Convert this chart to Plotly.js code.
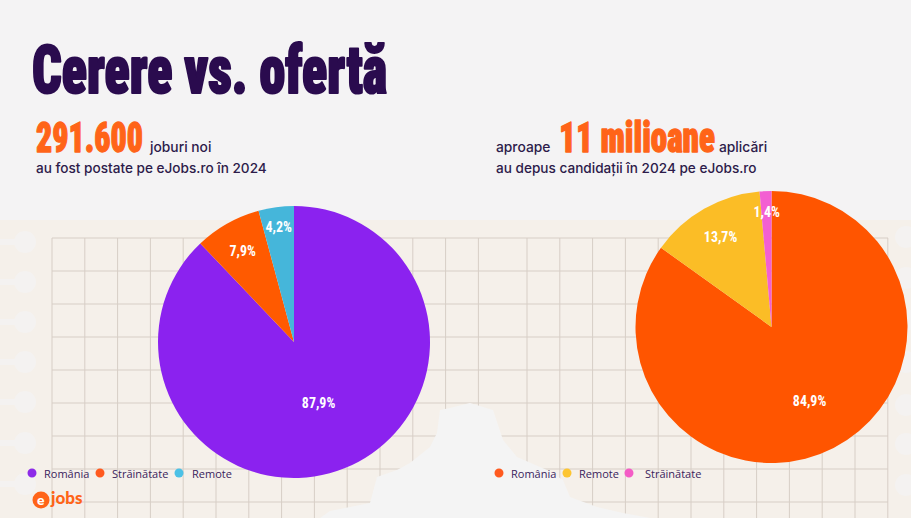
<!DOCTYPE html>
<html>
<head>
<meta charset="utf-8">
<script src="https://cdn.plot.ly/plotly-3.0.1.min.js"></script>
<style>
  html, body { margin: 0; padding: 0; background: #F4F3F4; }
  #chart { width: 911px; height: 518px; }
</style>
</head>
<body>
<div id="chart"></div>
<script>
// ---- data ----
const jobCategories = ['România', 'Străinătate', 'Remote'];
const jobShares = [87.9, 7.9, 4.2];
const jobColors = ['#8B22EF', '#FF5A00', '#45B6DA'];

const applicationCategories = ['România', 'Remote', 'Străinătate'];
const applicationShares = [84.9, 13.7, 1.4];
const applicationColors = ['#FF5500', '#FBBD26', '#F35FD2'];

const titleText = 'Cerere vs. ofertă';
const jobsTotal = '291.600';
const applicationsTotal = '11 milioane';

// ---- layout helpers (pixel -> paper) ----
const W = 911, H = 518;
const px = x => x / W;
const py = y => 1 - y / H;

const DARK = '#2A0B4E';
const TEXT = '#2D1B4A';
const ORANGE = '#FF6418';
const DISPLAY = 'Roboto Condensed, Liberation Sans Narrow, DejaVu Sans Condensed, DejaVu Sans, sans-serif';
const BODY = 'Inter, Liberation Sans, sans-serif';
const LEGEND_FONT = 'Open Sans, Noto Sans, sans-serif';

const fmt = v => v.toFixed(1).replace('.', ',') + '%';

// pie geometry in pixels
const pies = [
  { cats: jobCategories, vals: jobShares, colors: jobColors, cx: 294, cy: 342, r: 136,
    labelRadius: [0.48, 0.77, 0.85] },
  { cats: applicationCategories, vals: applicationShares, colors: applicationColors, cx: 771.5, cy: 327, r: 136,
    labelRadius: [0.61, 0.76, 0.85] }
];

const traces = pies.map(p => ({
  type: 'pie',
  labels: p.cats,
  values: p.vals,
  marker: { colors: p.colors, line: { width: 0 } },
  sort: false,
  direction: 'clockwise',
  rotation: 0,
  textinfo: 'none',
  hoverinfo: 'label+percent',
  showlegend: false,
  domain: { x: [px(p.cx - p.r), px(p.cx + p.r)], y: [py(p.cy + p.r), py(p.cy - p.r)] }
}));

const shapes = [];
// paper-like panel
shapes.push({ type: 'rect', xref: 'paper', yref: 'paper', x0: 0, x1: 1, y0: 0, y1: py(220),
  fillcolor: '#F5F0EA', line: { width: 0 }, layer: 'below' });

// binding holes along the panel edges
[242, 282, 322, 362, 402, 443, 484].forEach(y => {
  shapes.push({ type: 'circle', xref: 'paper', yref: 'paper', x0: px(14), x1: px(36), y0: py(y + 11), y1: py(y - 11),
    fillcolor: '#F4F2F1', line: { width: 0 }, layer: 'below' });
  shapes.push({ type: 'rect', xref: 'paper', yref: 'paper', x0: 0, x1: px(20), y0: py(y + 3), y1: py(y - 3),
    fillcolor: '#F4F2F1', line: { width: 0 }, layer: 'below' });
});
[237, 278, 320, 362, 405, 444, 485].forEach(y => {
  shapes.push({ type: 'circle', xref: 'paper', yref: 'paper', x0: px(895), x1: px(917), y0: py(y + 11), y1: py(y - 11),
    fillcolor: '#F4F2F1', line: { width: 0 }, layer: 'below' });
});

// squared grid
const GRID = '#D7CEC6';
const step = 32.8;
for (let i = 0; i <= 13; i++) {
  const x = 52 + i * step;
  shapes.push({ type: 'line', xref: 'paper', yref: 'paper', x0: px(x), x1: px(x), y0: 0, y1: py(238),
    line: { color: GRID, width: 1 }, layer: 'below' });
}
for (let i = 0; i <= 11; i++) {
  const x = 527 + i * step;
  shapes.push({ type: 'line', xref: 'paper', yref: 'paper', x0: px(x), x1: px(x), y0: 0, y1: py(238),
    line: { color: GRID, width: 1 }, layer: 'below' });
}
for (let k = 0; k <= 8; k++) {
  const y = 238 + k * 33;
  shapes.push({ type: 'line', xref: 'paper', yref: 'paper', x0: px(52), x1: px(888), y0: py(y), y1: py(y),
    line: { color: GRID, width: 1 }, layer: 'below' });
}

// torn edge at the bottom of the panel
const tear = [[320,518],[330,511],[370,503],[377,477],[397,470],[410,463],[430,447],[437,433],[440,410],
  [450,408],[470,403],[493,410],[503,440],[517,457],[547,470],[563,480],[570,497],[597,507],[623,513],[650,518]];
shapes.push({ type: 'path', xref: 'paper', yref: 'paper', layer: 'below',
  path: 'M' + tear.map(([x, y]) => px(x).toFixed(5) + ',' + py(y).toFixed(5)).join(' L') + ' Z',
  fillcolor: '#F4F4F4', line: { width: 0 } });

const annotations = [];
const squeeze = {};   // annotation index -> horizontal squeeze / extra weight
const ann = (o, sq) => {
  annotations.push(Object.assign({ xref: 'paper', yref: 'paper', showarrow: false,
    xanchor: 'left', yanchor: 'middle' }, o));
  if (sq) squeeze[annotations.length - 1] = sq;
};

// headline
ann({ text: titleText, x: px(30), y: py(70), font: { family: DISPLAY, size: 67, color: DARK, weight: 900 } },
  { width: 355, origin: 'left center', stroke: DARK, strokeWidth: 2.2 });

// left subtitle
ann({ text: jobsTotal, x: px(34), y: py(137.5), font: { family: DISPLAY, size: 42, color: ORANGE, weight: 900 } },
  { width: 107, origin: 'left center', stroke: ORANGE, strokeWidth: 1.3 });
ann({ text: 'joburi noi', x: px(147), y: py(147.5), font: { family: BODY, size: 13.8, color: TEXT, weight: 500 } });
ann({ text: 'au fost postate pe eJobs.ro în 2024', x: px(34), y: py(168.5), font: { family: BODY, size: 13.6, color: TEXT, weight: 500 } });

// right subtitle
ann({ text: 'aproape', x: px(494), y: py(147.5), font: { family: BODY, size: 13.8, color: TEXT, weight: 500 } });
ann({ text: applicationsTotal, x: px(557), y: py(137.5), font: { family: DISPLAY, size: 42, color: ORANGE, weight: 900 } },
  { width: 156, origin: 'left center', stroke: ORANGE, strokeWidth: 1.3 });
ann({ text: 'aplicări', x: px(717), y: py(147.5), font: { family: BODY, size: 13.8, color: TEXT, weight: 500 } });
ann({ text: 'au depus candidații în 2024 pe eJobs.ro', x: px(494), y: py(168.5), font: { family: BODY, size: 13.6, color: TEXT, weight: 500 } });

// slice percentages, placed along each slice's mid-angle
pies.forEach(p => {
  const total = p.vals.reduce((a, b) => a + b, 0);
  let acc = 0;
  p.vals.forEach((v, i) => {
    const mid = (acc + v / 2) / total * 2 * Math.PI;
    acc += v;
    const rr = p.r * p.labelRadius[i];
    const x = p.cx + rr * Math.sin(mid);
    const y = p.cy - rr * Math.cos(mid);
    ann({ text: fmt(v), x: px(x), y: py(y), xanchor: 'center',
      font: { family: DISPLAY, size: 15.5, color: '#FFFFFF', weight: 700 } },
      { factor: 0.9, origin: 'center' });
  });
});

// legends
const legendDots = [[32, 100, 179], [499, 567, 629]];
const legendText = [[42, 110, 190], [509, 577, 643]];
const legendDotColors = [['#8D2BE8', '#FF5A1F', '#4CC1E6'], ['#FF5A1F', '#FDC531', '#F45CC6']];
pies.forEach((p, j) => {
  p.cats.forEach((c, i) => {
    const cx = legendDots[j][i], cy = 473;
    shapes.push({ type: 'circle', xref: 'paper', yref: 'paper', x0: px(cx - 4.5), x1: px(cx + 4.5),
      y0: py(cy + 4.5), y1: py(cy - 4.5), fillcolor: legendDotColors[j][i], line: { width: 0 } });
    ann({ text: c, x: px(legendText[j][i]), y: py(cy), font: { family: LEGEND_FONT, size: 11, color: '#3A1D5C' } });
  });
});

// brand mark
shapes.push({ type: 'circle', xref: 'paper', yref: 'paper', x0: px(32.5), x1: px(49.5), y0: py(508.5), y1: py(491.5),
  fillcolor: '#FF6418', line: { width: 0 } });
ann({ text: 'e', x: px(41), y: py(499), xanchor: 'center', font: { family: 'Lato, sans-serif', size: 14, color: '#FFFFFF', weight: 900 } });
ann({ text: 'jobs', x: px(48), y: py(497.5), font: { family: 'Lato, sans-serif', size: 17, color: '#FF6418', weight: 900 } });

const layout = {
  width: W, height: H,
  margin: { l: 0, r: 0, t: 0, b: 0 },
  paper_bgcolor: '#F4F3F4',
  plot_bgcolor: 'rgba(0,0,0,0)',
  showlegend: false,
  shapes, annotations
};

// the display face is a tall, heavy compressed grotesque: squeeze and embolden the installed face
Plotly.newPlot('chart', traces, layout, { displayModeBar: false, staticPlot: true }).then(gd => {
  Object.keys(squeeze).forEach(k => {
    const sq = squeeze[k];
    const t = gd.querySelector('.annotation[data-index="' + k + '"] text');
    if (!t) return;
    const f = sq.factor || (sq.width / t.getBBox().width);
    t.style.transformBox = 'fill-box';
    t.style.transformOrigin = sq.origin;
    t.style.transform = 'scaleX(' + f.toFixed(4) + ')';
    if (sq.stroke) {
      t.style.stroke = sq.stroke;
      t.style.strokeWidth = sq.strokeWidth + 'px';
      t.style.strokeLinejoin = 'round';
      t.style.paintOrder = 'stroke fill';
    }
  });
});
</script>
</body>
</html>
